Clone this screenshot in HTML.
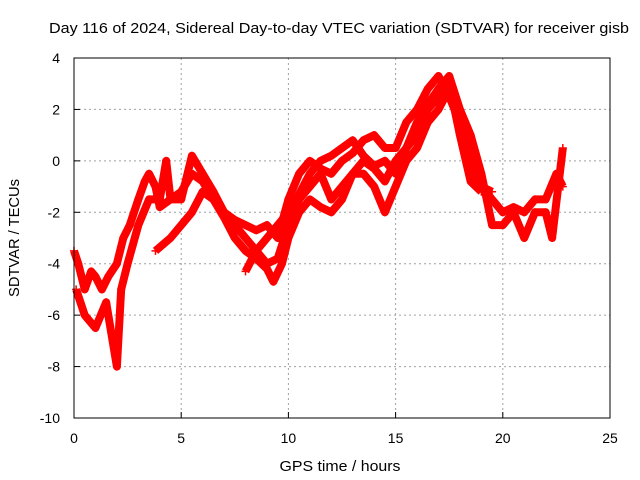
<!DOCTYPE html>
<html><head><meta charset="utf-8"><style>
html,body{margin:0;padding:0;background:#fff;}
svg{display:block;font-family:"Liberation Sans",sans-serif;}
</style></head><body>
<svg id="chart" width="640" height="480">
<text x="339" y="33" font-size="15" text-anchor="middle" textLength="580" lengthAdjust="spacingAndGlyphs">Day 116 of 2024, Sidereal Day-to-day VTEC variation (SDTVAR) for receiver gisb</text>
<text x="340" y="471" font-size="15" text-anchor="middle" textLength="121" lengthAdjust="spacingAndGlyphs">GPS time / hours</text>
<text transform="translate(19,238) rotate(-90)" font-size="15" text-anchor="middle" textLength="118" lengthAdjust="spacingAndGlyphs">SDTVAR / TECUs</text>
<g id="grid"></g>
<g id="ticks"></g>
<g id="series"></g>
<rect x="74" y="58" width="536" height="360" fill="none" stroke="#000" stroke-width="1"/>
</svg>
<script>
const xTicks=[0,5,10,15,20,25];
const yTicks=[4,2,0,-2,-4,-6,-8,-10];
const trackA=[[0,-3.5],[0.2,-4],[0.5,-5],[0.8,-4.3],[1,-4.5],[1.3,-5],[1.6,-4.5],[2,-4],[2.3,-3],[2.6,-2.5],[3,-1.5],[3.3,-0.8],[3.5,-0.5],[3.8,-1],[4,-1.8],[4.5,-1.5],[5,-1.2],[5.5,-0.5],[6,-0.8],[6.5,-1.5],[7,-2],[7.5,-2.3],[8,-2.5],[8.5,-2.7],[9,-2.5],[9.5,-3],[10,-1.5],[10.5,-0.5],[11,0],[11.5,-0.3],[12,-0.5],[12.5,0],[13,0.3],[13.5,0.8],[14,1],[14.5,0.5],[15,0.5],[15.5,1.5],[16,2],[16.5,2.8],[17,3.3],[17.5,2.5],[18,1.5],[18.5,0],[19,-1],[19.5,-1.5],[20,-2],[20.5,-1.8],[21,-2],[21.5,-1.5],[22,-1.5],[22.5,-0.5],[22.8,-1]];
const trackB=[[0.1,-5],[0.5,-6],[1,-6.5],[1.5,-5.5],[1.8,-7],[2,-8],[2.2,-5],[2.5,-4],[3,-2.5],[3.5,-1.5],[4,-1.5],[4.3,0],[4.5,-1.5],[5,-1.5],[5.5,0.2],[6,-0.5],[6.5,-1.2],[7,-2],[7.5,-2.5],[8,-3],[8.5,-3.5],[9,-4],[9.5,-3.8],[10,-2.5],[10.5,-1.5],[11,-1],[11.5,-0.5],[12,-1.5],[12.5,-1],[13,-0.5],[13.5,0],[14,-0.3],[14.5,-0.8],[15,0],[15.5,0.5],[16,1.5],[16.5,2.2],[17,2.8],[17.5,3.3],[18,2],[18.5,1],[19,-0.5],[19.5,-2.5],[20,-2.5],[20.5,-2],[21,-3],[21.5,-2],[22,-2],[22.3,-3],[22.8,0.5]];
const trackC=[[3.8,-3.5],[4.5,-3],[5,-2.5],[5.5,-2],[6,-1.2],[6.5,-1.5],[7,-2.2],[7.5,-3],[8,-3.5],[8.5,-3.8],[9,-4.2],[9.3,-4.7],[9.7,-4],[10,-3],[10.5,-2],[11,-1.5],[11.5,-1.8],[12,-2],[12.5,-1.5],[13,-0.5],[13.5,-0.5],[14,-1],[14.5,-2],[15,-1],[15.5,0],[16,0.5],[16.5,1.5],[17,2],[17.5,2.8],[18,1.5],[18.5,-0.5],[19,-1],[19.5,-1.2]];
const trackD=[[8,-4.3],[8.5,-3.5],[9,-3],[9.5,-2.5],[10,-2],[10.5,-1.3],[11,-0.5],[11.5,0],[12,0.2],[12.5,0.5],[13,0.8],[13.5,0.2],[14,-0.2],[14.5,0],[15,-0.5],[15.5,0.5],[16,1],[16.5,2],[17,2.5],[17.5,3],[18,1],[18.5,-0.8],[19,-1.2]];
const tracks=[trackA,trackB,trackC,trackD];
const NS="http://www.w3.org/2000/svg";
const X=v=>74+(v-0)/25*536;
const Y=v=>58+(4-v)/14*360;
function mk(tag,parent){const e=document.createElementNS(NS,tag);parent.appendChild(e);return e;}
const grid=document.getElementById('grid'),ticks=document.getElementById('ticks'),series=document.getElementById('series');
xTicks.forEach(t=>{
  const x=X(t);
  if(t>0&&t<25){const l=mk('line',grid);l.setAttribute('x1',x);l.setAttribute('x2',x);l.setAttribute('y1',58);l.setAttribute('y2',418);l.setAttribute('stroke','#a0a0a0');l.setAttribute('stroke-dasharray','2,3');
  
  }
  const tk=mk('line',ticks);tk.setAttribute('x1',x);tk.setAttribute('x2',x);tk.setAttribute('y1',418);tk.setAttribute('y2',412);tk.setAttribute('stroke','#000');
  
  
  const tx=mk('text',ticks);tx.setAttribute('x',x);tx.setAttribute('y',443);tx.setAttribute('font-size','14');tx.setAttribute('text-anchor','middle');tx.textContent=t;
  
  
});
yTicks.forEach(t=>{
  const y=Y(t);
  if(t<4&&t>-10){const l=mk('line',grid);l.setAttribute('x1',74);l.setAttribute('x2',610);l.setAttribute('y1',y);l.setAttribute('y2',y);l.setAttribute('stroke','#a0a0a0');l.setAttribute('stroke-dasharray','2,3');
  
  }
  const tk=mk('line',ticks);tk.setAttribute('x1',74);tk.setAttribute('x2',80);tk.setAttribute('y1',y);tk.setAttribute('y2',y);tk.setAttribute('stroke','#000');
  
  
  const tx=mk('text',ticks);tx.setAttribute('x',60);tx.setAttribute('y',y+5);tx.setAttribute('font-size','14');tx.setAttribute('text-anchor','end');tx.textContent=t;
  
  
});
tracks.forEach((tr,i)=>{
  const pl=mk('polyline',series);
  pl.setAttribute('points',tr.map(p=>X(p[0])+','+Y(p[1])).join(' '));
  pl.setAttribute('fill','none');pl.setAttribute('stroke','#ff0000');pl.setAttribute('stroke-width','8');pl.setAttribute('stroke-linejoin','round');
  
  
  tr.forEach(p=>{
    const x=X(p[0]),y=Y(p[1]);
    const m=mk('path',series);
    m.setAttribute('d','M'+(x-4)+','+y+'H'+(x+4)+'M'+x+','+(y-4)+'V'+(y+4));
    m.setAttribute('stroke','#ff0000');m.setAttribute('stroke-width','1.5');
    
    
  });
});
</script>
</body></html>
